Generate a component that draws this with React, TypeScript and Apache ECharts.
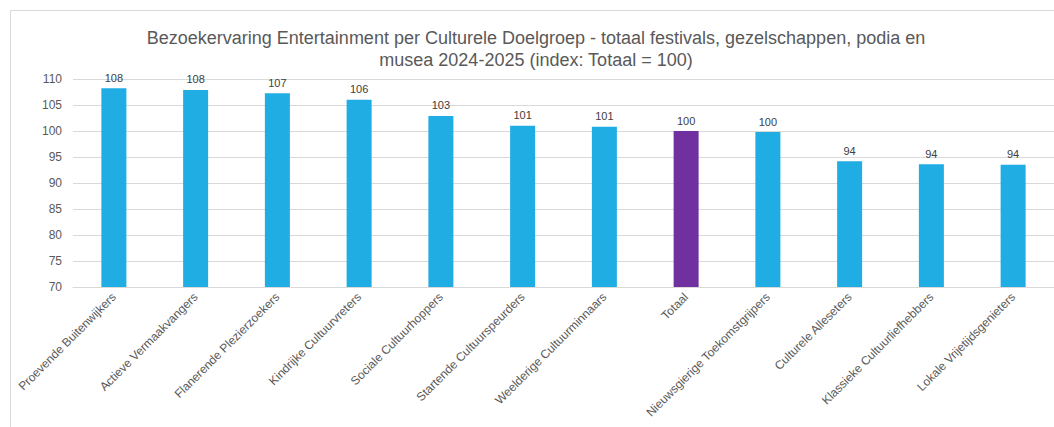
import React, { useEffect, useRef } from "react";
import * as echarts from "echarts";

const categories = [
  "Proevende Buitenwijkers",
  "Actieve Vermaakvangers",
  "Flanerende Plezierzoekers",
  "Kindrijke Cultuurvreters",
  "Sociale Cultuurhoppers",
  "Startende Cultuurspeurders",
  "Weelderige Cultuurminnaars",
  "Totaal",
  "Nieuwsgierige Toekomstgrijpers",
  "Culturele Alleseters",
  "Klassieke Cultuurliefhebbers",
  "Lokale Vrijetijdsgenieters",
];
const values = [108.2, 107.9, 107.25, 106.0, 102.9, 101.0, 100.8, 100, 99.8, 94.2, 93.6, 93.5];
const totalLabel = "Totaal";
const yMin = 70;
const yMax = 110;
const yStep = 5;
const title =
  "Bezoekervaring Entertainment per Culturele Doelgroep - totaal festivals, gezelschappen, podia en\nmusea 2024-2025 (index: Totaal = 100)";

export default function App() {
  const ref = useRef<HTMLDivElement>(null);
  useEffect(() => {
    document.body.style.margin = "0";
    const chart = echarts.init(ref.current!, null, { renderer: "svg" });
    chart.setOption({
      animation: false,
      backgroundColor: "#ffffff",
      textStyle: { fontFamily: "Liberation Sans, Arial, sans-serif" },
      title: {
        text: title,
        left: 531,
        textAlign: "center",
        top: 22,
        textStyle: {
          fontSize: 18,
          fontWeight: "normal",
          color: "#595959",
          lineHeight: 22,
          fontFamily: "Liberation Sans, Arial, sans-serif",
        },
      },
      graphic: [
        {
          type: "rect",
          shape: { x: 10.5, y: 10.5, width: 1100, height: 500 },
          style: { fill: "none", stroke: "#d9d9d9", lineWidth: 1 },
          silent: true,
        },
      ],
      grid: { left: 73, right: 0, top: 79, bottom: 140, containLabel: false },
      xAxis: {
        type: "category",
        data: categories,
        axisLine: { lineStyle: { color: "#d9d9d9" } },
        axisTick: { show: false },
        axisLabel: {
          rotate: 45,
          interval: 0,
          margin: 8,
          fontSize: 12,
          color: "#595959",
          fontFamily: "Liberation Sans, Arial, sans-serif",
        },
      },
      yAxis: {
        type: "value",
        min: yMin,
        max: yMax,
        interval: yStep,
        axisLine: { show: false },
        axisTick: { show: false },
        splitLine: { lineStyle: { color: "#d9d9d9" } },
        axisLabel: {
          fontSize: 12,
          color: "#595959",
          margin: 11,
          fontFamily: "Liberation Sans, Arial, sans-serif",
        },
      },
      series: [
        {
          type: "bar",
          barWidth: 25,
          data: values.map((v, i) => ({
            value: v,
            itemStyle: { color: categories[i] === totalLabel ? "#7030A0" : "#1FADE4" },
          })),
          label: {
            show: true,
            position: "top",
            distance: 5,
            fontSize: 11,
            color: "#404040",
            formatter: (p: any) => Math.round(p.value).toString(),
          },
        },
      ],
    });
    return () => chart.dispose();
  }, []);
  return <div ref={ref} style={{ width: 1054, height: 427 }} />;
}
